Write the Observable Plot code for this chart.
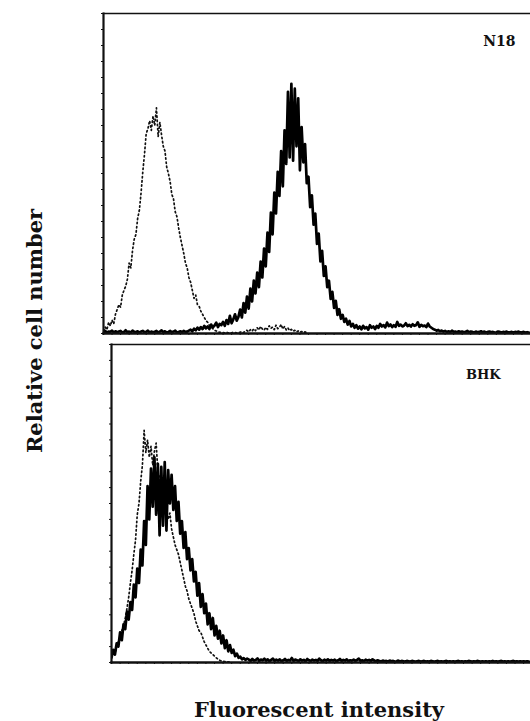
<!DOCTYPE html>
<html>
<head>
<meta charset="utf-8">
<script src="https://cdn.jsdelivr.net/npm/d3@7"></script>
<script src="https://cdn.jsdelivr.net/npm/@observablehq/plot@0.6"></script>
<style>
  html, body { margin: 0; padding: 0; background: #fff; }
  #wrap { position: relative; width: 530px; height: 721px; overflow: hidden; background: #fff; }
  #top, #bottom { position: absolute; left: 0; }
  #top { top: 0; }
  #bottom { top: 340px; }
  .lab { position: absolute; font-family: "DejaVu Serif", serif; font-weight: bold; font-size: 21px; color: #111; white-space: nowrap; line-height: 1; }
  #ylab { left: 34px; top: 331px; transform: translate(-50%, -50%) rotate(-90deg); }
  #xlab { left: 319px; top: 699px; transform: translateX(-50%); }
</style>
</head>
<body>
<div id="wrap">
  <div id="top"></div>
  <div id="bottom"></div>
  <div class="lab" id="ylab">Relative cell number</div>
  <div class="lab" id="xlab">Fluorescent intensity</div>
</div>
<script>
// Panel names
const panelNames = ["N18", "BHK"];
const yLabel = "Relative cell number";
const xLabel = "Fluorescent intensity";

// N18: stained cells (solid), counts per channel 0..249
const n18Stained = [
  0.4,0.8,0.3,0.6,0.5,0.9,0.3,0.7,0.4,0.6,
  0.8,0.3,0.5,1.0,0.4,0.6,0.3,0.9,0.5,0.4,
  0.7,0.3,0.6,0.8,0.4,0.5,0.9,0.3,0.6,0.4,
  0.5,0.8,0.3,0.6,1.0,0.4,0.7,0.3,0.5,0.8,
  0.4,0.6,0.9,0.3,0.5,0.7,0.4,0.8,0.5,0.6,
  0.9,1.2,0.7,1.5,1.0,1.8,1.2,2.0,1.4,2.4,
  1.6,2.2,1.4,2.8,1.9,2.5,3.4,2.0,3.0,2.6,
  3.6,2.4,4.2,3.0,5.5,3.2,4.4,6.0,4.0,5.2,
  7.5,5.0,9.5,6.5,11.5,7.8,14.0,10.0,16.5,12.5,
  19.0,14.5,22.5,17.5,26.5,21.0,31.5,25.5,37.8,31.0,
  44.0,37.5,50.5,43.0,57.0,46.0,63.5,53.0,75.5,55.0,
  78.0,54.0,76.5,58.5,73.5,51.0,64.5,53.5,59.2,47.0,
  49.0,39.5,43.2,34.0,37.5,28.0,31.2,22.5,25.8,18.0,
  21.0,14.5,16.5,10.8,13.0,8.0,10.2,5.8,7.6,4.6,
  5.8,3.6,4.6,2.8,3.9,2.2,3.0,1.8,2.6,1.5,
  2.2,1.3,2.4,1.6,2.0,1.2,2.6,1.8,2.2,1.4,
  2.4,1.8,3.0,2.2,2.6,1.9,3.4,2.3,2.8,2.0,
  2.6,2.1,3.6,2.4,2.8,2.2,2.5,3.2,2.3,2.7,
  2.2,2.9,2.4,2.6,3.5,2.1,2.7,2.3,2.5,2.0,
  3.1,2.2,1.8,1.4,1.2,0.9,1.1,0.7,0.9,0.6,
  0.8,0.5,0.7,0.4,0.9,0.5,0.6,0.4,0.7,0.5,
  0.6,0.4,0.5,0.8,0.4,0.6,0.5,0.3,0.6,0.4,
  0.5,0.7,0.4,0.6,0.3,0.5,0.6,0.4,0.5,0.3,
  0.4,0.6,0.5,0.3,0.5,0.4,0.6,0.3,0.4,0.5,
  0.3,0.5,0.4,0.6,0.3,0.4,0.5,0.3,0.4,0.3
];

// N18: control (dotted), counts per channel 0..119
const n18Control = [
  0.8,2.0,1.2,3.5,2.4,4.2,3.0,6.0,7.5,9.0,
  8.2,12.0,13.5,14.8,17.0,22.0,20.5,26.0,29.5,31.0,
  36.0,38.5,44.0,50.5,56.0,62.5,64.0,66.5,63.5,68.0,
  65.0,70.5,61.5,66.0,62.0,58.5,57.0,52.0,50.0,47.5,
  43.5,42.0,38.0,36.5,33.0,30.0,27.5,25.0,22.0,20.5,
  17.5,16.0,13.5,11.0,12.0,9.0,8.5,7.0,6.0,5.0,
  4.0,3.5,2.5,2.0,1.5,1.0,0.8,0.5,0.4,0.3,
  0.3,0.2,0.4,0.2,0.3,0.2,0.4,0.3,0.2,0.3,
  0.4,0.6,0.3,0.8,1.0,0.5,1.2,0.7,1.5,0.9,
  1.8,1.1,2.2,1.4,1.0,1.9,1.3,2.4,1.6,2.0,
  1.2,2.6,1.5,1.9,2.8,1.4,2.2,1.1,1.7,0.9,
  1.3,0.7,1.0,0.5,0.8,0.4,0.6,0.3,0.5,0.3
];

// BHK: stained cells (solid), counts per channel 0..243
const bhkStained = [
  1.5,4.0,2.5,6.0,5.0,9.5,7.0,12.0,10.5,16.0,
  13.5,19.0,16.5,24.5,20.5,29.5,25.0,35.5,30.5,44.5,
  37.0,55.5,45.0,61.0,49.0,64.5,46.5,62.5,40.0,61.5,
  43.0,63.0,41.5,60.5,50.0,59.0,48.0,55.5,44.5,50.5,
  40.5,44.5,36.0,41.0,32.5,36.0,29.0,32.5,25.5,28.5,
  21.0,25.0,17.5,21.5,15.5,18.5,12.0,15.5,10.5,14.0,
  8.5,11.5,7.5,10.0,6.0,8.5,4.5,7.0,3.5,5.5,
  3.0,4.0,2.0,2.8,1.5,1.8,1.0,1.4,0.8,1.2,
  0.9,0.5,1.1,0.6,0.8,1.3,0.5,0.9,0.7,1.2,
  0.6,1.0,0.4,0.8,1.2,0.5,0.9,0.6,1.0,0.4,
  0.7,1.1,0.5,0.8,0.6,1.4,0.5,0.9,0.7,0.5,
  1.0,0.6,0.8,0.4,1.1,0.7,0.5,0.9,0.6,0.8,
  0.5,1.2,0.7,0.4,0.9,0.6,1.0,0.5,0.8,0.6,
  0.9,0.4,0.7,1.1,0.5,0.8,0.6,1.0,0.4,0.7,
  0.6,0.9,0.5,0.8,1.2,0.5,0.7,0.4,0.9,0.6,
  0.8,0.5,1.0,0.6,0.4,0.7,0.5,0.3,0.6,0.4,
  0.5,0.3,0.6,0.4,0.5,0.3,0.4,0.6,0.3,0.5,
  0.4,0.3,0.5,0.4,0.3,0.5,0.4,0.3,0.4,0.5,
  0.3,0.4,0.5,0.3,0.4,0.3,0.5,0.4,0.3,0.4,
  0.5,0.3,0.4,0.3,0.4,0.5,0.3,0.4,0.3,0.4,
  0.3,0.4,0.5,0.3,0.4,0.3,0.4,0.3,0.5,0.4,
  0.3,0.4,0.3,0.5,0.4,0.3,0.4,0.3,0.4,0.3,
  0.4,0.3,0.5,0.3,0.4,0.3,0.4,0.5,0.3,0.4,
  0.3,0.4,0.3,0.4,0.5,0.3,0.4,0.3,0.4,0.3,
  0.4,0.3,0.4,0.3
];

// BHK: control (dotted), counts per channel 0..69
const bhkControl = [
  2.0,3.5,2.5,5.0,6.5,8.0,10.0,11.5,14.0,17.0,
  20.5,25.0,29.0,34.0,38.5,46.5,50.0,57.0,62.0,73.0,
  66.0,70.0,64.5,68.0,62.0,66.5,69.0,60.0,58.0,55.5,
  52.0,54.0,48.5,45.0,47.0,42.0,39.5,37.0,35.5,34.0,
  31.5,29.0,26.5,24.0,22.5,20.0,18.5,17.0,15.5,13.0,
  11.5,10.0,9.5,8.0,6.5,5.5,4.5,3.5,3.0,2.5,
  2.0,1.5,1.0,0.7,0.5,0.4,0.3,0.2,0.2,0.1
];

const toRows = arr => arr.map((v, i) => ({c: i, v}));

function panel({name, stained, control, height, marginTop, marginBottom, marginLeft, xMax, labelDx, labelDy, fontSize}) {
  return Plot.plot({
    width: 530,
    height,
    marginTop,
    marginBottom,
    marginLeft,
    marginRight: 0,
    style: {background: "#fff", overflow: "visible"},
    x: {domain: [0, xMax]},
    y: {domain: [0, 100]},
    marks: [
      Plot.axisX({ticks: 40, tickSize: 2, tickFormat: () => "", label: null, stroke: "#111"}),
      Plot.axisY({ticks: 25, tickSize: 2, tickFormat: () => "", label: null, stroke: "#111"}),
      Plot.line(toRows(control), {x: "c", y: "v", stroke: "#111", strokeWidth: 1.7, strokeDasharray: "1.4 2.8", clip: true}),
      Plot.line(toRows(stained), {x: "c", y: "v", stroke: "#000", strokeWidth: 2.7, clip: true}),
      Plot.frame({anchor: "top", stroke: "#111", strokeWidth: 1.6}),
      Plot.frame({anchor: "left", stroke: "#111", strokeWidth: 2.2}),
      Plot.frame({anchor: "bottom", stroke: "#111", strokeWidth: 2.4}),
      Plot.text([name], {
        frameAnchor: "top-right", textAnchor: "end", lineAnchor: "bottom",
        dx: labelDx, dy: labelDy, fontSize, fontWeight: "bold",
        fontFamily: "DejaVu Serif, serif", fill: "#111"
      })
    ]
  });
}

document.getElementById("top").append(panel({
  name: panelNames[0], stained: n18Stained, control: n18Control,
  height: 340, marginTop: 13, marginBottom: 7, marginLeft: 103, xMax: 250,
  labelDx: -15, labelDy: 32, fontSize: 14
}));
document.getElementById("bottom").append(panel({
  name: panelNames[1], stained: bhkStained, control: bhkControl,
  height: 330, marginTop: 4, marginBottom: 8, marginLeft: 111, xMax: 244,
  labelDx: -30, labelDy: 34, fontSize: 13
}));
document.getElementById("ylab").textContent = yLabel;
document.getElementById("xlab").textContent = xLabel;
</script>
</body>
</html>
